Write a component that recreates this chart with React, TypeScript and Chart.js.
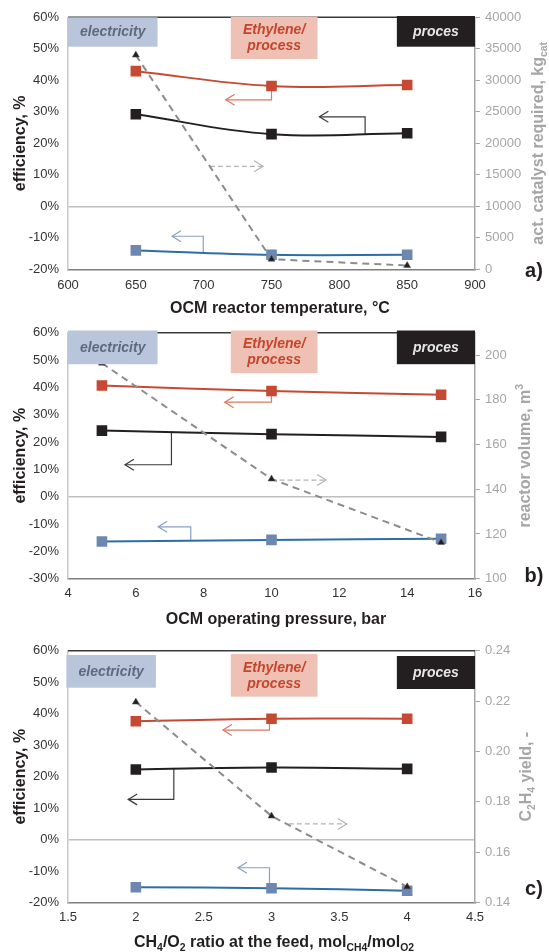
import React, { useEffect, useRef } from 'react';
import { Chart, registerables } from 'chart.js';

Chart.register(...registerables);

const FONT = "'Liberation Sans', Arial, Helvetica, sans-serif";
Chart.defaults.font.family = FONT;

// ---------- Panel a: OCM reactor temperature ----------
const tempX = [650, 750, 850];
const tempEthylene = [42.9, 38.2, 38.5];
const tempProces = [29.2, 22.9, 23.2];
const tempElectricity = [-14.0, -15.4, -15.4];
const tempCatalyst = [34000, 1600, 600];

// ---------- Panel b: OCM operating pressure ----------
const presX = [5, 10, 15];
const presEthylene = [40.7, 38.7, 37.3];
const presProces = [24.2, 22.9, 21.9];
const presElectricity = [-16.4, -15.8, -15.4];
const presVolume = [196.4, 144.6, 116.2];

// ---------- Panel c: CH4/O2 ratio ----------
const ratioX = [2, 3, 4];
const ratioEthylene = [37.6, 38.4, 38.4];
const ratioProces = [22.3, 22.9, 22.5];
const ratioElectricity = [-15.1, -15.4, -16.2];
const ratioYield = [0.2196, 0.1744, 0.1463];

// ---------- axis ranges ----------
const tempAxis = [600, 900, 50];
const presAxis = [4, 16, 2];
const ratioAxis = [1.5, 4.5, 0.5];
const effAxisA = [-20, 60, 10];
const effAxisB = [-30, 60, 10];
const effAxisC = [-20, 60, 10];
const catalystAxis = [0, 40000, 5000];
const volumeAxis = [100, 210, 20];
const yieldAxis = [0.14, 0.24, 0.02];

const boxLabels = ['electricity', 'Ethylene/|process', 'proces'];

type Seg = { t: string; sub?: boolean; sup?: boolean };
type Arrow = { pts: number[][]; color: string; dashed?: boolean };
type Box = number[]; // fx0, fx1, dy0, dy1

interface PanelCfg {
  height: number;
  plotTop: number;
  plotBottom: number;
  xAxis: number[];
  yAxis: number[];
  y2Axis: number[];
  y2Fmt: (v: number) => string;
  xs: number[];
  eth: number[];
  proc: number[];
  elec: number[];
  sec: number[];
  xTitle: Seg[];
  xTitleX: number;
  xTitleDy: number;
  xTickPad: number;
  xFmt: (v: number) => string;
  y2Title: Seg[];
  y2TitleX: number;
  label: string;
  labelDy: number;
  boxes: Box[];
  arrows: Arrow[];
}

const RED = '#c64a33';
const BLACK = '#231f20';
const BLUE_LINE = '#2d6ea8';
const BLUE_MARK = '#6d88b0';
const GRAY = '#8c8c8c';
const RED_AR = '#de7763';
const BLACK_AR = '#3a3a3a';
const GRAY_AR = '#b3b3b3';
const BLUE_AR = '#8aa0c0';

const panels: PanelCfg[] = [
  {
    height: 316,
    plotTop: 17.3,
    plotBottom: 269.3,
    xAxis: tempAxis,
    yAxis: effAxisA,
    y2Axis: catalystAxis,
    y2Fmt: (v) => String(v),
    xs: tempX,
    eth: tempEthylene,
    proc: tempProces,
    elec: tempElectricity,
    sec: tempCatalyst,
    xTitle: [{ t: 'OCM reactor temperature, °C' }],
    xTitleX: 280,
    xTitleDy: 38,
    xTickPad: 8,
    xFmt: (v) => String(v),
    y2Title: [{ t: 'act. catalyst required, kg' }, { t: 'cat', sub: true }],
    y2TitleX: 537,
    label: 'a)',
    labelDy: 0,
    boxes: [
      [0, 0.22, 0, 29.4],
      [0.4, 0.613, -0.6, 41.7],
      [0.808, 1.0, -1.3, 29.4],
    ],
    arrows: [
      { pts: [[750, 38.2], [750, 33.8], [716.3, 33.8]], color: RED_AR },
      { pts: [[819, 22.8], [819, 28.4], [785.3, 28.4]], color: BLACK_AR },
      { pts: [[704.6, 12.7], [743.8, 12.7]], color: GRAY_AR, dashed: true },
      { pts: [[699.7, -14.6], [699.7, -9.5], [676.7, -9.5]], color: BLUE_AR },
    ],
  },
  {
    height: 316,
    plotTop: 11.3,
    plotBottom: 262.7,
    xAxis: presAxis,
    yAxis: effAxisB,
    y2Axis: volumeAxis,
    y2Fmt: (v) => String(v),
    xs: presX,
    eth: presEthylene,
    proc: presProces,
    elec: presElectricity,
    sec: presVolume,
    xTitle: [{ t: 'OCM operating pressure, bar' }],
    xTitleX: 276,
    xTitleDy: 39.6,
    xTickPad: 7,
    xFmt: (v) => String(v),
    y2Title: [{ t: 'reactor volume, m' }, { t: '3', sup: true }],
    y2TitleX: 524,
    label: 'b)',
    labelDy: -4,
    boxes: [
      [0, 0.22, -2.3, 31.4],
      [0.4, 0.613, -2.3, 40.4],
      [0.808, 1.0, -2.3, 31.4],
    ],
    arrows: [
      { pts: [[10, 38.7], [10, 34.6], [8.62, 34.6]], color: RED_AR },
      { pts: [[7.05, 23.9], [7.05, 11.7], [5.68, 11.7]], color: BLACK_AR },
      { pts: [[10, 6.1], [11.61, 6.1]], color: GRAY_AR, dashed: true },
      { pts: [[7.62, -16.0], [7.62, -11.0], [6.66, -11.0]], color: BLUE_AR },
    ],
  },
  {
    height: 320,
    plotTop: 18.7,
    plotBottom: 270.7,
    xAxis: ratioAxis,
    yAxis: effAxisC,
    y2Axis: yieldAxis,
    y2Fmt: (v) => v.toFixed(2),
    xs: ratioX,
    eth: ratioEthylene,
    proc: ratioProces,
    elec: ratioElectricity,
    sec: ratioYield,
    xTitle: [
      { t: 'CH' }, { t: '4', sub: true }, { t: '/O' }, { t: '2', sub: true },
      { t: ' ratio at the feed, mol' }, { t: 'CH4', sub: true }, { t: '/mol' }, { t: 'O2', sub: true },
    ],
    xTitleX: 274,
    xTitleDy: 39,
    xTickPad: 7,
    xFmt: (v) => String(Math.round(v * 10) / 10),
    y2Title: [{ t: 'C' }, { t: '2', sub: true }, { t: 'H' }, { t: '4', sub: true }, { t: ' yield, -' }],
    y2TitleX: 525,
    label: 'c)',
    labelDy: -15,
    boxes: [
      [-0.004, 0.216, 4.3, 37],
      [0.4, 0.613, 3.3, 46],
      [0.808, 1.0, 5.3, 38.3],
    ],
    arrows: [
      { pts: [[2.985, 38.4], [2.985, 34.8], [2.642, 34.8]], color: RED_AR },
      { pts: [[2.28, 22.5], [2.28, 12.8], [1.944, 12.8]], color: BLACK_AR },
      { pts: [[3.128, 5.0], [3.554, 5.0]], color: GRAY_AR, dashed: true },
      { pts: [[2.985, -15.4], [2.985, -8.9], [2.753, -8.9]], color: BLUE_AR },
    ],
  },
];

function drawRich(
  ctx: CanvasRenderingContext2D,
  segs: Seg[],
  cx: number,
  cy: number,
  size: number,
  color: string,
  rot: number
) {
  ctx.save();
  ctx.translate(cx, cy);
  if (rot) ctx.rotate(rot);
  ctx.fillStyle = color;
  ctx.textBaseline = 'alphabetic';
  ctx.textAlign = 'left';
  let w = 0;
  for (const s of segs) {
    const fs = s.sub || s.sup ? size * 0.65 : size;
    ctx.font = `bold ${fs}px ${FONT}`;
    w += ctx.measureText(s.t).width;
  }
  let x = -w / 2;
  const base = size * 0.36;
  for (const s of segs) {
    const fs = s.sub || s.sup ? size * 0.65 : size;
    ctx.font = `bold ${fs}px ${FONT}`;
    const dy = s.sub ? size * 0.25 : s.sup ? -size * 0.42 : 0;
    ctx.fillText(s.t, x, base + dy);
    x += ctx.measureText(s.t).width;
  }
  ctx.restore();
}

function drawArrow(ctx: CanvasRenderingContext2D, pts: { x: number; y: number }[], color: string, dashed?: boolean) {
  ctx.save();
  ctx.strokeStyle = color;
  ctx.lineWidth = 1.2;
  if (dashed) ctx.setLineDash([5, 3]);
  ctx.beginPath();
  pts.forEach((p, i) => (i ? ctx.lineTo(p.x, p.y) : ctx.moveTo(p.x, p.y)));
  ctx.stroke();
  ctx.setLineDash([]);
  const a = pts[pts.length - 1];
  const b = pts[pts.length - 2];
  const ang = Math.atan2(a.y - b.y, a.x - b.x);
  const L = 10.5;
  const W = 0.55;
  ctx.beginPath();
  ctx.moveTo(a.x - L * Math.cos(ang - W), a.y - L * Math.sin(ang - W));
  ctx.lineTo(a.x, a.y);
  ctx.lineTo(a.x - L * Math.cos(ang + W), a.y - L * Math.sin(ang + W));
  ctx.stroke();
  ctx.restore();
}

function makeOverlay(cfg: PanelCfg) {
  return {
    id: 'overlay',
    beforeDatasetsDraw(chart: any) {
      const ctx: CanvasRenderingContext2D = chart.ctx;
      const xs = chart.scales.x;
      const ys = chart.scales.y;
      for (const ar of cfg.arrows) {
        const pts = ar.pts.map((p) => ({ x: xs.getPixelForValue(p[0]), y: ys.getPixelForValue(p[1]) }));
        drawArrow(ctx, pts, ar.color, ar.dashed);
      }
    },
    afterDraw(chart: any) {
      const ctx: CanvasRenderingContext2D = chart.ctx;
      const area = chart.chartArea;
      // top border
      ctx.save();
      ctx.strokeStyle = '#3a3a3a';
      ctx.lineWidth = 1.5;
      ctx.beginPath();
      ctx.moveTo(area.left, area.top);
      ctx.lineTo(area.right, area.top);
      ctx.stroke();
      ctx.restore();

      // label boxes
      const styles = [
        { bg: '#b9c5da', fg: '#5d6a7e' },
        { bg: '#efc1b5', fg: '#c5452c' },
        { bg: '#231f20', fg: '#e6e6e6' },
      ];
      const W = area.right - area.left;
      cfg.boxes.forEach((b, i) => {
        const x0 = area.left + b[0] * W;
        const x1 = area.left + b[1] * W;
        const y0 = area.top + b[2];
        const y1 = area.top + b[3];
        ctx.save();
        ctx.fillStyle = styles[i].bg;
        ctx.fillRect(x0, y0, x1 - x0, y1 - y0);
        ctx.fillStyle = styles[i].fg;
        ctx.font = `italic bold 14px ${FONT}`;
        ctx.textAlign = 'center';
        ctx.textBaseline = 'middle';
        const lines = boxLabels[i].split('|');
        const cx = (x0 + x1) / 2;
        const cy = (y0 + y1) / 2;
        const lh = 16;
        lines.forEach((ln, k) => {
          ctx.fillText(ln, cx, cy + (k - (lines.length - 1) / 2) * lh + 0.5);
        });
        ctx.restore();
      });

      // axis titles
      const midY = (area.top + area.bottom) / 2;
      drawRich(ctx, [{ t: 'efficiency, %' }], 19, midY, 16, '#231f20', -Math.PI / 2);
      drawRich(ctx, cfg.y2Title, cfg.y2TitleX, midY, 16, '#a6a6a6', -Math.PI / 2);
      drawRich(ctx, cfg.xTitle, cfg.xTitleX, area.bottom + cfg.xTitleDy, 16, '#231f20', 0);

      // panel label
      drawRich(ctx, [{ t: cfg.label }], 534, area.bottom + cfg.labelDy, 20, '#231f20', 0);
    },
  };
}

function Panel({ cfg }: { cfg: PanelCfg }) {
  const ref = useRef<HTMLCanvasElement | null>(null);
  useEffect(() => {
    if (!ref.current) return;
    const pts = (vals: number[]) => cfg.xs.map((x, i) => ({ x, y: vals[i] }));
    const chart = new Chart(ref.current, {
      type: 'line',
      data: {
        datasets: [
          {
            label: 'secondary',
            data: pts(cfg.sec),
            yAxisID: 'y1',
            borderColor: GRAY,
            borderWidth: 2,
            borderDash: [7, 5],
            tension: 0,
            pointStyle: 'triangle',
            pointRadius: 4,
            pointBackgroundColor: BLACK,
            pointBorderColor: '#555',
            pointBorderWidth: 0.5,
            order: 0,
          },
          {
            label: 'Ethylene/process',
            data: pts(cfg.eth),
            yAxisID: 'y',
            borderColor: RED,
            borderWidth: 2,
            tension: 0.4,
            pointStyle: 'rect',
            pointRadius: 7.5,
            pointBackgroundColor: RED,
            pointBorderWidth: 0,
            order: 1,
          },
          {
            label: 'proces',
            data: pts(cfg.proc),
            yAxisID: 'y',
            borderColor: BLACK,
            borderWidth: 2,
            tension: 0.4,
            pointStyle: 'rect',
            pointRadius: 7.5,
            pointBackgroundColor: BLACK,
            pointBorderWidth: 0,
            order: 2,
          },
          {
            label: 'electricity',
            data: pts(cfg.elec),
            yAxisID: 'y',
            borderColor: BLUE_LINE,
            borderWidth: 2,
            tension: 0.4,
            pointStyle: 'rect',
            pointRadius: 7.5,
            pointBackgroundColor: BLUE_MARK,
            pointBorderWidth: 0,
            order: 3,
          },
        ],
      },
      options: {
        responsive: false,
        animation: false,
        layout: { padding: { top: cfg.plotTop, left: 0, right: 0, bottom: 0 } },
        plugins: { legend: { display: false }, tooltip: { enabled: false } },
        scales: {
          x: {
            type: 'linear',
            min: cfg.xAxis[0],
            max: cfg.xAxis[1],
            ticks: {
              stepSize: cfg.xAxis[2],
              color: '#333',
              font: { size: 13 },
              padding: cfg.xTickPad,
              autoSkip: false,
              maxRotation: 0,
              callback: (v: any) => cfg.xFmt(Number(v)),
            },
            grid: { display: false, drawTicks: false },
            border: { display: true, color: '#7f7f7f', width: 1.5 },
            afterFit: (s: any) => {
              s.height = cfg.height - cfg.plotBottom;
            },
          },
          y: {
            type: 'linear',
            position: 'left',
            min: cfg.yAxis[0],
            max: cfg.yAxis[1],
            ticks: {
              stepSize: cfg.yAxis[2],
              color: '#333',
              font: { size: 13 },
              padding: 9,
              callback: (v: any) => `${Math.round(Number(v))}%`,
            },
            grid: {
              drawTicks: false,
              lineWidth: 1.5,
              color: (c: any) => (c.tick && c.tick.value === 0 ? '#bfbfbf' : 'rgba(0,0,0,0)'),
            },
            border: { display: true, color: '#c8c8c8', width: 1.5 },
            afterFit: (s: any) => {
              s.width = 68;
            },
          },
          y1: {
            type: 'linear',
            position: 'right',
            min: cfg.y2Axis[0],
            max: cfg.y2Axis[1],
            ticks: {
              stepSize: cfg.y2Axis[2],
              includeBounds: false,
              color: '#a6a6a6',
              font: { size: 13 },
              padding: 5,
              callback: (v: any) => cfg.y2Fmt(Number(v)),
            },
            grid: { drawOnChartArea: false, drawTicks: true, tickLength: 5, color: '#a6a6a6', lineWidth: 1 },
            border: { display: true, color: '#a6a6a6', width: 1.5 },
            afterFit: (s: any) => {
              s.width = 549 - 475;
            },
          },
        },
      },
      plugins: [makeOverlay(cfg)],
    } as any);
    return () => chart.destroy();
  }, [cfg]);
  return <canvas ref={ref} width={549} height={cfg.height} style={{ display: 'block', width: 549, height: cfg.height }} />;
}

export default function App() {
  return (
    <div style={{ position: 'absolute', left: 0, top: 0, width: 549, height: 952, background: '#fff' }}>
      {panels.map((p, i) => (
        <Panel key={i} cfg={p} />
      ))}
    </div>
  );
}
